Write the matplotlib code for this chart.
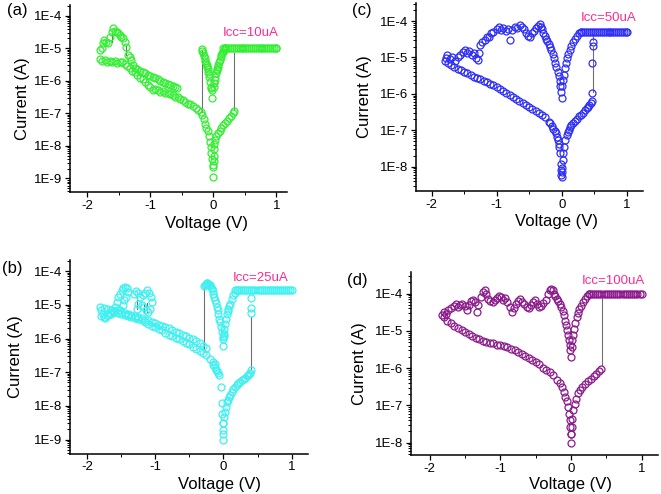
import numpy as np
import matplotlib
matplotlib.use('Agg')
import matplotlib.pyplot as plt
from matplotlib.ticker import FixedLocator, FuncFormatter, LogLocator, MultipleLocator, NullFormatter

plt.rcParams['font.family'] = ['Liberation Sans', 'DejaVu Sans']
plt.rcParams['axes.unicode_minus'] = False

# ---------------- panel (a)  Icc = 10uA ----------------
a_set_v = [0.0, 0.0, 0.005, 0.01, 0.01, 0.02, 0.03, 0.05, 0.07, 0.1, 0.13, 0.16, 0.19, 0.22, 0.25, 0.28, 0.31, 0.33]
a_set_i = [1.1e-9, 2.5e-9, 3.5e-9, 4.7e-9, 8e-9, 1.1e-8, 1.5e-8, 2e-8, 2.4e-8, 2.8e-8, 3.6e-8, 4.3e-8, 5e-8, 6e-8, 7.2e-8, 8.5e-8, 1e-7, 1.2e-7]
a_rst_v = [-0.17, -0.15, -0.13, -0.11, -0.09, -0.07, -0.05, -0.04, -0.03, -0.02, -0.01]
a_rst_i = [9e-8, 6.5e-8, 4.8e-8, 3.6e-8, 2.8e-8, 2e-8, 1.3e-8, 9.3e-9, 6e-9, 4e-9, 2.3e-9]
a_flat_v = [0.15, 0.18, 0.21, 0.24, 0.27, 0.30, 0.33, 0.36, 0.39, 0.42, 0.45, 0.48, 0.51, 0.54, 0.57,
            0.60, 0.63, 0.66, 0.69, 0.72, 0.75, 0.78, 0.81, 0.84, 0.87, 0.90, 0.93, 0.96, 0.99, 1.0]
a_icc = 1.0e-5
a_lr_v = [0.185, 0.17, 0.16, 0.145, 0.13, 0.12, 0.106, 0.095, 0.08, 0.07, 0.06, 0.053, 0.045, 0.035, 0.026, 0.018, 0.01]
a_lr_i = [1e-5, 9e-6, 7.8e-6, 7e-6, 6.2e-6, 5.3e-6, 4.4e-6, 3.7e-6, 3e-6, 2.6e-6, 2.3e-6, 2.1e-6, 1.7e-6, 1.3e-6, 1.05e-6, 8.5e-7, 6.6e-7]
a_ll_v = [-0.016, -0.02, -0.03, -0.042, -0.053, -0.063, -0.07, -0.08, -0.09, -0.095, -0.105, -0.115, -0.125, -0.13, -0.145, -0.16, -0.175, -0.185]
a_ll_i = [2.9e-7, 5.2e-7, 6e-7, 6.6e-7, 9.3e-7, 1.35e-6, 1.6e-6, 1.9e-6, 2.3e-6, 2.7e-6, 3e-6, 3.4e-6, 4e-6, 4.9e-6, 5.8e-6, 6.9e-6, 8e-6, 9.3e-6]
a_neg_v = [-0.2, -0.24, -0.28, -0.32, -0.36, -0.4, -0.44, -0.48, -0.52, -0.56, -0.6, -0.64, -0.68, -0.72, -0.76, -0.8,
           -0.84, -0.88, -0.92, -0.96, -1.0, -1.04, -1.08, -1.12, -1.16, -1.2, -1.24, -1.28, -1.32, -1.36, -1.4, -1.44,
           -1.48, -1.52, -1.56, -1.6, -1.64, -1.68, -1.72, -1.76, -1.8]
a_neg_i = [1.1e-7, 1.3e-7, 1.5e-7, 1.65e-7, 1.9e-7, 2e-7, 2.3e-7, 2.6e-7, 2.8e-7, 3.1e-7, 3.2e-7, 3.6e-7, 3.8e-7, 4.1e-7, 4.3e-7, 4.9e-7,
           4.6e-7, 5.2e-7, 5.5e-7, 5.2e-7, 6.3e-7, 7.4e-7, 9.3e-7, 1.1e-6, 1.25e-6, 1.5e-6, 1.8e-6, 2e-6, 2.4e-6, 2.8e-6, 3.2e-6, 3.7e-6,
           3.8e-6, 3.6e-6, 4e-6, 3.8e-6, 4.2e-6, 3.9e-6, 4.4e-6, 4.1e-6, 4.6e-6]
a_ret_v = [-1.8, -1.77, -1.746, -1.735, -1.70, -1.667, -1.64, -1.61, -1.587, -1.56, -1.53, -1.51, -1.48, -1.455, -1.43, -1.40,
           -1.386, -1.35, -1.32, -1.30, -1.27, -1.24, -1.2, -1.16, -1.12, -1.08, -1.04, -1.0, -0.96, -0.92, -0.88, -0.84,
           -0.8, -0.76, -0.72, -0.68, -0.64, -0.6, -0.58]
a_ret_i = [8.7e-6, 1e-5, 1.4e-5, 1.8e-5, 1.6e-5, 1.4e-5, 2.2e-5, 3.2e-5, 4.1e-5, 3.5e-5, 3.2e-5, 2.9e-5, 2.6e-5, 2.2e-5, 2e-5, 1.6e-5,
           1.1e-5, 6.2e-6, 5.5e-6, 4.4e-6, 3e-6, 2.5e-6, 2.3e-6, 2e-6, 1.85e-6, 1.7e-6, 1.55e-6, 1.4e-6, 1.3e-6, 1.2e-6, 1.1e-6, 1e-6,
           9.3e-7, 8.7e-7, 7.9e-7, 7.4e-7, 6.9e-7, 6.4e-7, 6e-7]
a_jumps = [(-0.185, 1.1e-7, 8.5e-6), (0.33, 1.3e-7, 7e-6), (-1.39, 6e-6, 1.2e-5), (-1.61, 1.6e-5, 2.9e-5)]

# ---------------- panel (b)  Icc = 25uA ----------------
b_set_v = [0.0, 0.0, 0.0, 0.01, 0.024, 0.039, 0.059, 0.07, 0.088, 0.1, 0.122, 0.145, 0.171, 0.195, 0.22, 0.245, 0.27,
           0.295, 0.318, 0.343, 0.367, 0.38, 0.39, 0.4]
b_set_i = [1e-9, 1.9e-9, 3e-9, 4.7e-9, 6.6e-9, 9.3e-9, 1.3e-8, 1.5e-8, 1.8e-8, 2.1e-8, 2.6e-8, 3.1e-8, 3.6e-8, 4.2e-8, 4.8e-8,
           5.2e-8, 5.7e-8, 6.3e-8, 6.9e-8, 7.5e-8, 8.1e-8, 8.8e-8, 9.5e-8, 1.15e-7]
b_rst_v = [-0.15, -0.13, -0.11, -0.1, -0.08, -0.06, -0.04, -0.025, -0.015, -0.01, -0.005]
b_rst_i = [1.6e-7, 1.4e-7, 1.2e-7, 1.1e-7, 9.5e-8, 8.1e-8, 3.6e-8, 1.2e-8, 5.9e-9, 3e-9, 1.5e-9]
b_jp_v = [0.4, 0.4, 0.4]
b_jp_i = [1.6e-5, 8.2e-6, 5.6e-6]
b_flat_v = [0.17, 0.2, 0.23, 0.26, 0.29, 0.32, 0.35, 0.38, 0.41, 0.44, 0.47, 0.5, 0.53, 0.56, 0.59, 0.62, 0.65,
            0.68, 0.71, 0.74, 0.77, 0.8, 0.83, 0.86, 0.89, 0.92, 0.95, 0.98, 1.0]
b_icc = 2.7e-5
b_lr_v = [0.196, 0.17, 0.147, 0.122, 0.098, 0.085, 0.073, 0.06, 0.049, 0.034, 0.024, 0.015, 0.01, 0.005, 0.0, -0.01]
b_lr_i = [2.7e-5, 2.3e-5, 1.9e-5, 1.5e-5, 1.07e-5, 9e-6, 7.6e-6, 6.5e-6, 5.5e-6, 3.9e-6, 2.7e-6, 1.9e-6, 1.4e-6, 1.2e-6, 1e-6, 6e-7]
b_ll_v = [-0.01, -0.024, -0.039, -0.05, -0.059, -0.073, -0.085, -0.098, -0.11, -0.122, -0.135, -0.147, -0.16, -0.171,
          -0.185, -0.196, -0.21, -0.22, -0.235, -0.245, -0.26, -0.27, -0.284]
b_ll_i = [1.1e-6, 1.55e-6, 2.2e-6, 3e-6, 3.9e-6, 5.5e-6, 7e-6, 8.5e-6, 1.1e-5, 1.35e-5, 1.7e-5, 2.1e-5, 2.5e-5, 3e-5,
          3.4e-5, 3.8e-5, 4e-5, 4.2e-5, 4.3e-5, 4.4e-5, 4.2e-5, 4e-5, 3.6e-5]
b_neg_v = [-0.12, -0.15, -0.2, -0.25, -0.3, -0.35, -0.4, -0.45, -0.5, -0.55, -0.6, -0.65, -0.7, -0.75, -0.8, -0.85, -0.9,
           -0.95, -1.0, -1.05, -1.1, -1.15, -1.2, -1.25, -1.3, -1.35, -1.4, -1.45, -1.5, -1.55, -1.6, -1.65, -1.7, -1.75, -1.8]
b_neg_i = [1.8e-7, 2e-7, 2.5e-7, 3.2e-7, 3.7e-7, 4.2e-7, 5e-7, 5.6e-7, 6.7e-7, 7.3e-7, 8.4e-7, 9.6e-7, 1.05e-6, 1.2e-6,
           1.3e-6, 1.5e-6, 1.75e-6, 1.9e-6, 2.2e-6, 2.4e-6, 2.75e-6, 3e-6, 3.45e-6, 3.8e-6, 4.1e-6, 4.5e-6, 4.7e-6, 5.1e-6,
           5.4e-6, 5.7e-6, 6e-6, 5.4e-6, 4.9e-6, 4.3e-6, 4.7e-6]
b_ret_v = [-1.75, -1.7, -1.65, -1.6, -1.55, -1.5, -1.45, -1.4, -1.35, -1.3, -1.25, -1.2, -1.15, -1.1, -1.05, -1.0, -0.95,
           -0.9, -0.85, -0.8, -0.75, -0.7, -0.65, -0.6, -0.55, -0.5, -0.45, -0.4, -0.35, -0.3, -0.25]
b_ret_i = [8e-6, 7.3e-6, 7e-6, 6.5e-6, 6.8e-6, 6e-6, 5.7e-6, 5.4e-6, 5.1e-6, 4.7e-6, 4.3e-6, 4.1e-6, 3.6e-6, 3.45e-6,
           3.1e-6, 2.9e-6, 2.6e-6, 2.4e-6, 2.2e-6, 2e-6, 1.75e-6, 1.6e-6, 1.45e-6, 1.3e-6, 1.2e-6, 1.05e-6, 9.6e-7, 8.4e-7,
           7.3e-7, 6.1e-7, 5.1e-7]
b_left_v = [-1.81, -1.79, -1.76, -1.74, -1.71, -1.67, -1.64]
b_left_i = [8.9e-6, 6.8e-6, 5.4e-6, 4.1e-6, 4.9e-6, 5.7e-6, 6.8e-6]
b_bump1_v = [-1.615, -1.59, -1.566, -1.542, -1.517, -1.493, -1.468, -1.444, -1.419, -1.405, -1.429, -1.459, -1.478, -1.517]
b_bump1_i = [6.1e-6, 8.6e-6, 1.2e-5, 1.7e-5, 2.1e-5, 2.7e-5, 3.2e-5, 3.5e-5, 3.2e-5, 2.4e-5, 1.7e-5, 1.35e-5, 9.6e-6, 6.8e-6]
b_bump2_v = [-1.312, -1.282, -1.248, -1.224, -1.185, -1.15, -1.126, -1.092, -1.067, -1.052, -1.077, -1.101, -1.136,
             -1.175, -1.199, -1.248, -1.273]
b_bump2_i = [2.1e-5, 2.5e-5, 2.2e-5, 1.7e-5, 1.9e-5, 2.2e-5, 2.7e-5, 2.2e-5, 1.7e-5, 1.2e-5, 7.6e-6, 6.1e-6, 6.8e-6,
             8.6e-6, 9.6e-6, 1.08e-5, 7.6e-6]
b_jumps = [(0.4, 1.25e-7, 4.4e-6), (-0.29, 5e-7, 3.4e-5), (-1.27, 7.6e-6, 1.7e-5), (-1.17, 5.7e-6, 1.08e-5),
           (-1.12, 6e-6, 1.1e-5)]

# ---------------- panel (c)  Icc = 50uA ----------------
c_set_v = [0.0, 0.005, 0.01, 0.015, 0.026, 0.041, 0.056, 0.077, 0.09, 0.108, 0.125, 0.149, 0.175, 0.205, 0.24, 0.272,
           0.3, 0.333, 0.36, 0.385, 0.405, 0.426, 0.445, 0.462]
c_set_i = [5.3e-9, 7e-9, 9e-9, 1.5e-8, 2.3e-8, 3.5e-8, 5.4e-8, 7.4e-8, 8.7e-8, 1e-7, 1.2e-7, 1.4e-7, 1.6e-7, 1.8e-7,
           2.1e-7, 2.4e-7, 2.7e-7, 3e-7, 3.5e-7, 4e-7, 4.4e-7, 4.9e-7, 5.6e-7, 6.5e-7]
c_rst_v = [-0.18, -0.15, -0.128, -0.105, -0.087, -0.07, -0.056, -0.045, -0.036, -0.026, -0.015, -0.01, -0.005]
c_rst_i = [1.55e-7, 1.3e-7, 1.1e-7, 9.5e-8, 8.2e-8, 6.5e-8, 5.4e-8, 4.3e-8, 3.5e-8, 2.3e-8, 1.2e-8, 8.1e-9, 6e-9]
c_neg_v = [-0.2, -0.25, -0.3, -0.35, -0.4, -0.45, -0.5, -0.55, -0.6, -0.65, -0.7, -0.75, -0.8, -0.85, -0.9, -0.95, -1.0,
           -1.05, -1.1, -1.15, -1.2, -1.25, -1.3, -1.35, -1.4, -1.45, -1.5, -1.55, -1.6, -1.65, -1.7, -1.75, -1.8]
c_neg_i = [1.72e-7, 2.26e-7, 2.7e-7, 3.04e-7, 3.4e-7, 3.9e-7, 4.4e-7, 5e-7, 5.7e-7, 6.4e-7, 7.1e-7, 8e-7, 9.3e-7, 1.03e-6,
           1.17e-6, 1.33e-6, 1.5e-6, 1.7e-6, 1.9e-6, 2.1e-6, 2.3e-6, 2.5e-6, 2.7e-6, 2.96e-6, 3.2e-6, 3.65e-6, 4e-6, 4.4e-6,
           4.9e-6, 5.6e-6, 6.2e-6, 7e-6, 7.8e-6]
c_ret_v = [-1.78, -1.76, -1.72, -1.68, -1.64, -1.6, -1.56, -1.52, -1.48, -1.45, -1.42, -1.38, -1.35, -1.32, -1.29, -1.27,
           -1.25, -1.22, -1.18, -1.15, -1.12, -1.08, -1.05, -1.0, -0.97, -0.93, -0.9, -0.86, -0.82, -0.79, -0.76, -0.72,
           -0.68, -0.64, -0.61, -0.58, -0.55, -0.52, -0.49, -0.46, -0.43, -0.4, -0.37, -0.34]
c_ret_i = [9.4e-6, 1.16e-5, 8.9e-6, 1e-5, 8.1e-6, 1.05e-5, 1.16e-5, 1.44e-5, 1.6e-5, 1.3e-5, 1.53e-5, 1.16e-5, 1.35e-5,
           9.4e-6, 8.5e-6, 1.3e-5, 2.2e-5, 2.7e-5, 3.1e-5, 3.7e-5, 3.6e-5, 4.6e-5, 5.1e-5, 5.9e-5, 7e-5, 5.7e-5, 6.3e-5,
           5.4e-5, 5.9e-5, 3e-5, 5.7e-5, 6.7e-5, 6.3e-5, 7.6e-5, 7e-5, 5.9e-5, 4.8e-5, 3.9e-5, 3.7e-5, 4.6e-5, 5.4e-5,
           6.3e-5, 7.3e-5, 8.3e-5]
c_ll_v = [-0.32, -0.3, -0.28, -0.26, -0.24, -0.22, -0.2, -0.18, -0.16, -0.14, -0.12, -0.1, -0.08, -0.06, -0.045, -0.03,
          -0.02, -0.01, 0.0]
c_ll_i = [7e-5, 5.9e-5, 4.8e-5, 3.9e-5, 3.3e-5, 2.9e-5, 2.4e-5, 2e-5, 1.6e-5, 1.24e-5, 9.4e-6, 7.2e-6, 5.6e-6, 4.1e-6,
          3e-6, 2.2e-6, 1.6e-6, 1.15e-6, 7.9e-7]
c_lr_v = [0.01, 0.02, 0.03, 0.045, 0.06, 0.08, 0.1, 0.12, 0.15, 0.18, 0.21, 0.24, 0.27, 0.3]
c_lr_i = [1.6e-6, 2.4e-6, 3.3e-6, 5e-6, 6.9e-6, 9.4e-6, 1.24e-5, 1.6e-5, 2.06e-5, 2.6e-5, 3.2e-5, 3.9e-5, 4.6e-5, 4.9e-5]
c_flat_v = [0.3, 0.33, 0.36, 0.39, 0.42, 0.45, 0.48, 0.51, 0.54, 0.57, 0.6, 0.63, 0.66, 0.69, 0.72, 0.75, 0.78, 0.81,
            0.84, 0.87, 0.9, 0.93, 0.96, 0.99, 1.0]
c_icc = 4.9e-5
c_jp_v = [0.47, 0.47, 0.485, 0.485]
c_jp_i = [1.08e-6, 7.2e-6, 2.06e-5, 2.7e-5]
c_jumps = [(0.475, 1.1e-6, 2e-5), (0.48, 3e-5, 4.5e-5)]

# ---------------- panel (d)  Icc = 100uA ----------------
d_set_v = [0.0, 0.005, 0.01, 0.02, 0.035, 0.05, 0.07, 0.1, 0.13, 0.16, 0.2, 0.24, 0.28, 0.32, 0.36, 0.4, 0.43]
d_set_i = [1e-8, 1.7e-8, 2.6e-8, 4.4e-8, 7.4e-8, 1.1e-7, 1.5e-7, 2.1e-7, 2.6e-7, 3.2e-7, 3.8e-7, 4.4e-7, 5.2e-7, 6e-7,
           7.1e-7, 8.3e-7, 9.7e-7]
d_neg_v = [-0.005, -0.01, -0.02, -0.03, -0.045, -0.06, -0.08, -0.1, -0.13, -0.16, -0.2, -0.25, -0.3, -0.35, -0.4, -0.45,
           -0.5, -0.55, -0.6, -0.65, -0.7, -0.75, -0.8, -0.85, -0.9, -0.95, -1.0, -1.05, -1.1, -1.15, -1.2, -1.25, -1.3,
           -1.35, -1.4, -1.45, -1.5, -1.55, -1.6, -1.65, -1.7, -1.75, -1.8, -1.82]
d_neg_i = [1.7e-8, 2.6e-8, 4e-8, 6e-8, 9.1e-8, 1.3e-7, 1.7e-7, 2.3e-7, 3.1e-7, 4e-7, 4.9e-7, 6.5e-7, 7.9e-7, 9.1e-7,
           1.03e-6, 1.26e-6, 1.47e-6, 1.7e-6, 1.9e-6, 2.1e-6, 2.45e-6, 2.7e-6, 3e-6, 3.3e-6, 3.7e-6, 3.9e-6, 4.2e-6, 4.3e-6,
           4.6e-6, 4.8e-6, 5e-6, 5.4e-6, 5.9e-6, 6.5e-6, 7.1e-6, 8.1e-6, 9.3e-6, 1.07e-5, 1.23e-5, 1.38e-5, 1.6e-5,
           1.9e-5, 2.3e-5, 2.6e-5]
d_ret_v = [-1.8, -1.77, -1.74, -1.7, -1.66, -1.63, -1.6, -1.57, -1.54, -1.5, -1.47, -1.45, -1.42, -1.39, -1.36, -1.33,
           -1.31, -1.28, -1.25, -1.22, -1.2, -1.17, -1.14, -1.11, -1.08, -1.05, -1.02, -0.99, -0.96, -0.93, -0.9, -0.87,
           -0.84, -0.81, -0.78, -0.75, -0.72, -0.69, -0.66, -0.63, -0.6, -0.57, -0.54, -0.51, -0.48, -0.45, -0.42, -0.39,
           -0.36, -0.33, -0.3, -0.28]
d_ret_i = [3.2e-5, 2.9e-5, 3.6e-5, 4e-5, 4.6e-5, 5.2e-5, 4.4e-5, 4.9e-5, 5.2e-5, 4.8e-5, 3.6e-5, 4.9e-5, 6.3e-5, 6.9e-5,
           6e-5, 3.2e-5, 4.9e-5, 8.1e-5, 1.1e-4, 1.28e-4, 1e-4, 7.4e-5, 6.3e-5, 6e-5, 6.9e-5, 7.8e-5, 8.5e-5, 8.1e-5, 6.9e-5,
           7.8e-5, 6e-5, 4.4e-5, 3.2e-5, 4e-5, 5.2e-5, 6.3e-5, 7.4e-5, 6e-5, 5.2e-5, 4.4e-5, 4e-5, 4.9e-5, 6e-5, 6.9e-5,
           5.4e-5, 4.4e-5, 4.6e-5, 5.6e-5, 6.6e-5, 9.6e-5, 1.23e-4, 1.36e-4]
d_ll_v = [-0.26, -0.24, -0.22, -0.2, -0.18, -0.16, -0.14, -0.12, -0.1, -0.085, -0.07, -0.055, -0.04, -0.03, -0.02, -0.01, 0.0]
d_ll_i = [1.23e-4, 1e-4, 8.5e-5, 7.4e-5, 6.3e-5, 5.4e-5, 4.4e-5, 3.4e-5, 2.6e-5, 1.9e-5, 1.4e-5, 1.04e-5, 7.6e-6, 5.6e-6,
          4.1e-6, 3e-6, 2e-6]
d_lr_v = [0.01, 0.02, 0.03, 0.045, 0.06, 0.08, 0.1, 0.12, 0.14, 0.17, 0.2, 0.23, 0.25]
d_lr_i = [3.7e-6, 5.6e-6, 7.6e-6, 1.15e-5, 1.6e-5, 2.3e-5, 3e-5, 3.9e-5, 4.6e-5, 5.9e-5, 7.4e-5, 8.9e-5, 1e-4]
d_flat_v = [0.25, 0.28, 0.31, 0.34, 0.37, 0.4, 0.43, 0.46, 0.49, 0.52, 0.55, 0.58, 0.61, 0.64, 0.67, 0.7, 0.73, 0.76,
            0.79, 0.82, 0.85, 0.88, 0.91, 0.94, 0.97, 1.0]
d_icc = 1.0e-4
d_jumps = [(0.435, 1.2e-6, 8.5e-5), (-1.43, 3.5e-5, 4.8e-5)]

fig = plt.figure(figsize=(6.61, 4.94), dpi=100)


def panel(rect, xlim, ylim, decades):
    ax = fig.add_axes(rect)
    ax.set_yscale('log')
    ax.set_xlim(*xlim)
    ax.set_ylim(*ylim)
    ax.spines[['top', 'right']].set_visible(False)
    for s in ['left', 'bottom']:
        ax.spines[s].set_linewidth(1.1)
    ax.xaxis.set_major_locator(FixedLocator([-2, -1, 0, 1]))
    ax.xaxis.set_minor_locator(MultipleLocator(0.5))
    ax.yaxis.set_major_locator(FixedLocator(decades))
    ax.yaxis.set_minor_locator(LogLocator(base=10, subs=np.arange(2, 10)))
    ax.yaxis.set_minor_formatter(NullFormatter())
    ax.yaxis.set_major_formatter(FuncFormatter(lambda v, p: '1E%d' % round(np.log10(v))))
    ax.tick_params(which='major', direction='out', length=3.5, width=0.9, labelsize=9.5, pad=2)
    ax.tick_params(which='minor', direction='out', length=2, width=0.7)
    ax.set_xlabel('Voltage (V)', fontsize=12)
    ax.set_ylabel('Current (A)', fontsize=12)
    return ax


def draw(ax, branches, flat_v, icc, jumps, color):
    for x0, lo, hi in jumps:
        ax.plot([x0, x0], [lo, hi], color='#707070', lw=0.8, zorder=1)
    for v, i in branches:
        ax.plot(v, i, 'o', ms=5, mfc='none', mec=color, mew=0.9, zorder=2)
    ax.plot(flat_v, [icc] * len(flat_v), 'o', ms=5, mfc='none', mec=color, mew=0.9, zorder=2)


pink = '#ff2a8f'

# (a)
ax = panel([0.1059, 0.6113, 0.3283, 0.3786], (-2.27, 1.17), (10**-9.42, 10**-3.67),
           [1e-9, 1e-8, 1e-7, 1e-6, 1e-5, 1e-4])
draw(ax, [(a_set_v, a_set_i), (a_rst_v, a_rst_i), (a_lr_v, a_lr_i), (a_ll_v, a_ll_i),
          (a_neg_v, a_neg_i), (a_ret_v, a_ret_i)], a_flat_v, a_icc, a_jumps, '#33ee33')
ax.text(0.15, 2.9e-5, 'Icc=10uA', color=pink, fontsize=9.5, va='center')
ax.xaxis.set_label_coords(0.63, -0.13)
ax.yaxis.set_label_coords(-0.185, 0.5)

# (b)
ax = panel([0.1059, 0.0816, 0.360, 0.392], (-2.25, 1.24), (10**-9.42, 10**-3.67),
           [1e-9, 1e-8, 1e-7, 1e-6, 1e-5, 1e-4])
draw(ax, [(b_set_v, b_set_i), (b_rst_v, b_rst_i), (b_jp_v, b_jp_i), (b_lr_v, b_lr_i), (b_ll_v, b_ll_i),
          (b_neg_v, b_neg_i), (b_ret_v, b_ret_i), (b_left_v, b_left_i), (b_bump1_v, b_bump1_i),
          (b_bump2_v, b_bump2_i)], b_flat_v, b_icc, b_jumps, '#3ff0f0')
ax.text(0.13, 6.3e-5, 'Icc=25uA', color=pink, fontsize=9.5, va='center')
ax.xaxis.set_label_coords(0.63, -0.12)
ax.yaxis.set_label_coords(-0.196, 0.5)

# (c)
ax = panel([0.6293, 0.6134, 0.3435, 0.380], (-2.24, 1.25), (10**-8.67, 10**-3.51),
           [1e-8, 1e-7, 1e-6, 1e-5, 1e-4])
draw(ax, [(c_set_v, c_set_i), (c_rst_v, c_rst_i), (c_neg_v, c_neg_i), (c_ret_v, c_ret_i), (c_ll_v, c_ll_i),
          (c_lr_v, c_lr_i), (c_jp_v, c_jp_i)], c_flat_v, c_icc, c_jumps, '#2f2ff5')
ax.text(0.29, 1.18e-4, 'Icc=50uA', color=pink, fontsize=9.5, va='center')
ax.xaxis.set_label_coords(0.62, -0.12)
ax.yaxis.set_label_coords(-0.195, 0.5)

# (d)
ax = panel([0.6213, 0.0783, 0.374, 0.371], (-2.27, 1.23), (10**-8.34, 10**-3.42),
           [1e-8, 1e-7, 1e-6, 1e-5, 1e-4])
draw(ax, [(d_set_v, d_set_i), (d_neg_v, d_neg_i), (d_ret_v, d_ret_i), (d_ll_v, d_ll_i),
          (d_lr_v, d_lr_i)], d_flat_v, d_icc, d_jumps, '#8c1a8c')
ax.text(0.157, 2.15e-4, 'Icc=100uA', color=pink, fontsize=9.5, va='center')
ax.xaxis.set_label_coords(0.645, -0.118)
ax.yaxis.set_label_coords(-0.178, 0.5)

for lab, x, y in [('(a)', 7, 11), ('(b)', 2, 268), ('(c)', 352, 10), ('(d)', 347, 281)]:
    fig.text(x / 661, 1 - y / 494, lab, fontsize=12, va='center', ha='left')

fig.savefig('out.png', dpi=100)
plt.close(fig)
